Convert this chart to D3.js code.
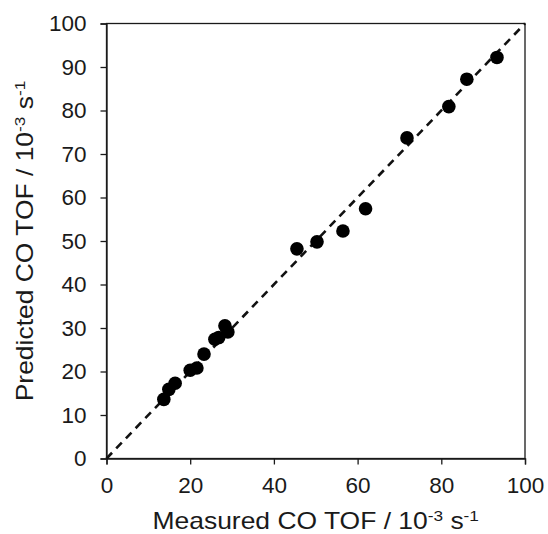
<!DOCTYPE html>
<html>
  <head>
    <script type="text/javascript" src="https://cdn.jsdelivr.net/npm/d3@7"></script>
    <style type="text/css">

html, body {
  margin: 0;
  background: #fff;
}

svg {
  display: block;
  font-family: "Liberation Sans", Arial, sans-serif;
}

.axis path, .axis line {
  stroke: #1a1a1a;
  stroke-width: 1.3;
}

.axis text {
  font-size: 22.5px;
  fill: #1a1a1a;
}

    </style>
  </head>
  <body>
    <div id="chart"></div>
    <script type="text/javascript">

// measured vs predicted CO TOF, units of 10^-3 s^-1
var measured  = [13.7, 14.9, 16.4, 20.0, 21.6, 23.3, 25.9, 26.8, 28.3, 29.0, 45.5, 50.3, 56.5, 61.9, 71.8, 81.8, 86.1, 93.3];
var predicted = [13.6, 15.9, 17.3, 20.3, 20.8, 24.0, 27.4, 27.8, 30.5, 29.1, 48.2, 49.8, 52.3, 57.4, 73.7, 80.9, 87.2, 92.2];
var xTicks = [0, 20, 40, 60, 80, 100];
var yTicks = [0, 10, 20, 30, 40, 50, 60, 70, 80, 90, 100];
var parity = [0, 100];

var width = 548,
    height = 534,
    margin = {top: 23.5, right: 23, bottom: 75.5, left: 106.5};

var svg = d3.select("#chart").append("svg")
    .attr("width", width)
    .attr("height", height);

var x = d3.scaleLinear().domain([0, 100]).range([margin.left, width - margin.right]);
var y = d3.scaleLinear().domain([0, 100]).range([height - margin.bottom, margin.top]);

// box round the plot
svg.append("rect")
    .attr("x", x(0))
    .attr("y", y(100))
    .attr("width", x(100) - x(0))
    .attr("height", y(0) - y(100))
    .style("fill", "none")
    .style("stroke", "#1a1a1a")
    .style("stroke-width", 1.3);

svg.append("g")
    .attr("class", "axis")
    .attr("transform", "translate(0," + y(0) + ")")
    .call(d3.axisBottom(x).tickValues(xTicks).tickSizeOuter(0).tickSize(6).tickPadding(13));

svg.append("g")
    .attr("class", "axis")
    .attr("transform", "translate(" + x(0) + ",0)")
    .call(d3.axisLeft(y).tickValues(yTicks).tickSizeOuter(0).tickSize(6).tickPadding(14));

// y = x line
svg.append("line")
    .attr("x1", x(parity[0]))
    .attr("y1", y(parity[0]))
    .attr("x2", x(parity[1]))
    .attr("y2", y(parity[1]))
    .style("stroke", "#111")
    .style("stroke-width", 2.6)
    .style("stroke-dasharray", "8,6");

svg.selectAll("circle.pt")
    .data(measured)
  .enter().append("circle")
    .attr("class", "pt")
    .attr("cx", function(d) { return x(d); })
    .attr("cy", function(d, i) { return y(predicted[i]); })
    .attr("r", 6.8)
    .style("fill", "#000");

// axis titles, stretched a little sideways like the original
function title(g, label) {
  var t = g.append("text")
      .attr("text-anchor", "middle")
      .style("font-size", "23px")
      .style("fill", "#1a1a1a");
  t.append("tspan").text(label + " / 10");
  t.append("tspan").attr("dy", -8).style("font-size", "15px").text("-3");
  t.append("tspan").attr("dy", 8).text(" s");
  t.append("tspan").attr("dy", -8).style("font-size", "15px").text("-1");
}

title(svg.append("g")
    .attr("transform", "translate(" + ((x(0) + x(100)) / 2 + 0) + ",529) scale(1.15,1)"), "Measured CO TOF");

title(svg.append("g")
    .attr("transform", "translate(33," + ((y(0) + y(100)) / 2) + ") rotate(-90) scale(1.15,1)"), "Predicted CO TOF");

    </script>
  </body>
</html>
